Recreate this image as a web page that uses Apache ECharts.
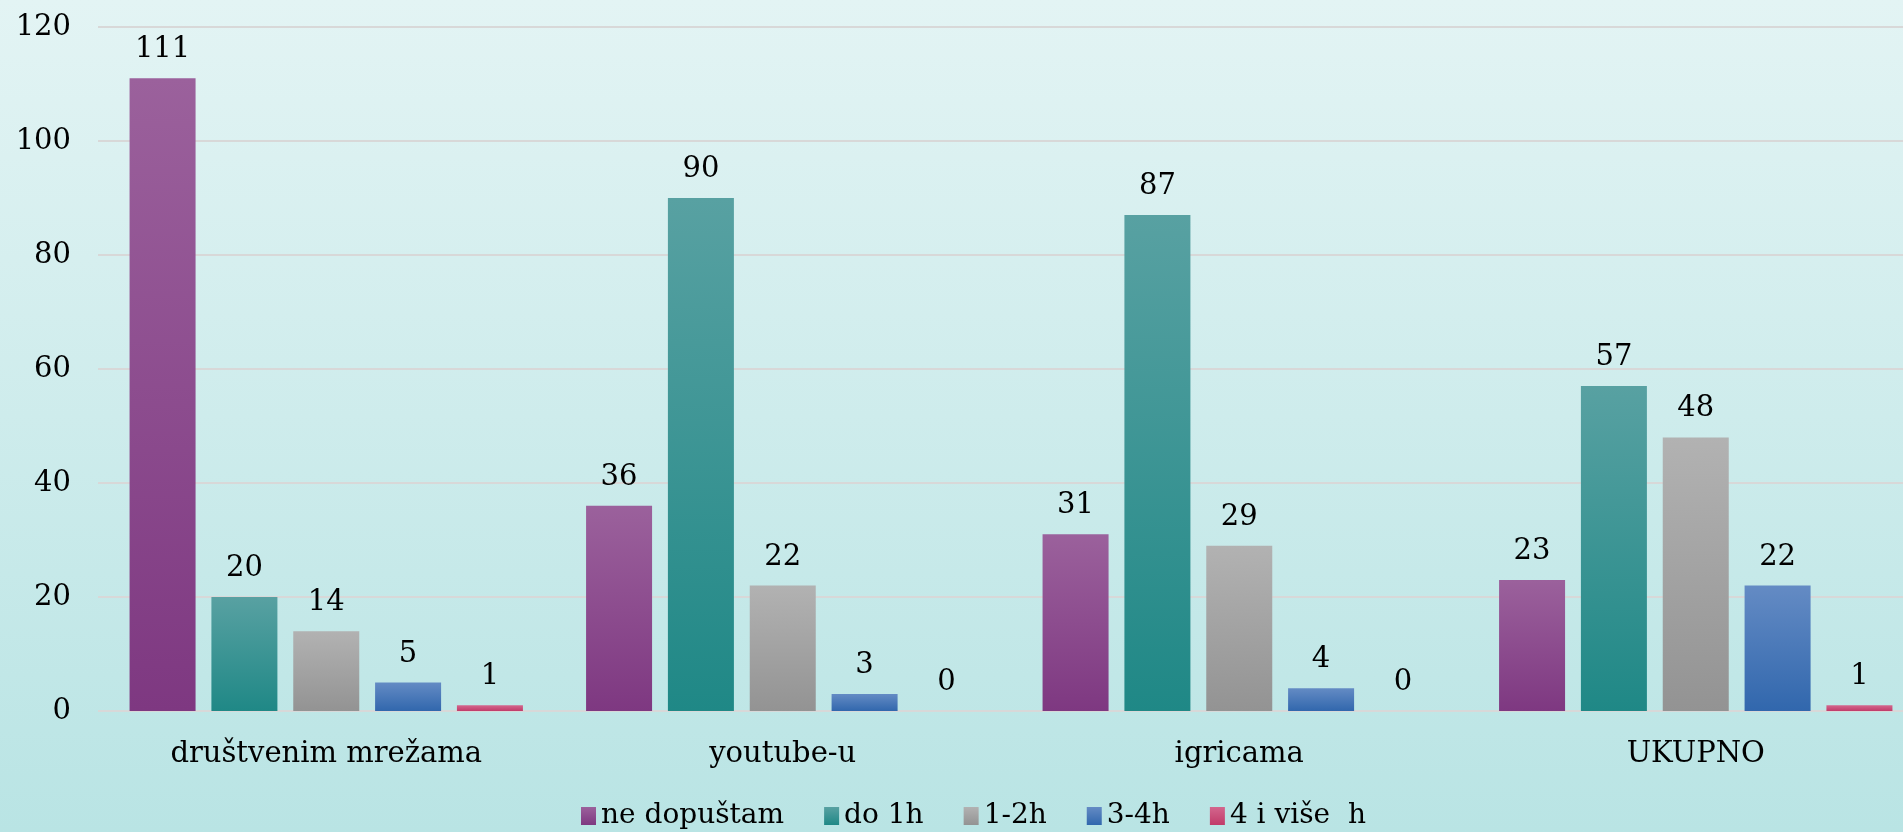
<!DOCTYPE html>
<html>
<head>
<meta charset="utf-8">
<script src="https://cdn.jsdelivr.net/npm/echarts@6/dist/echarts.min.js"></script>
<style>
  html, body { margin: 0; padding: 0; overflow: hidden; }
  /* chart is a bit wider than the window: the last bars run to the edge in the original */
  #chart {
    width: 1924px; height: 832px;
    background: linear-gradient(to bottom, #e3f4f4 0%, #b9e4e4 100%);
  }
</style>
</head>
<body>
<div id="chart"></div>
<script>
const categories = ['društvenim mrežama', 'youtube-u', 'igricama', 'UKUPNO'];
const seriesNames = ['ne dopuštam', 'do 1h', '1-2h', '3-4h', '4 i više  h'];
const neDopustam = [111, 36, 31, 23];
const do1h = [20, 90, 87, 57];
const h1do2 = [14, 22, 29, 48];
const h3do4 = [5, 3, 4, 22];
const h4iVise = [1, 0, 0, 1];
const yTicks = [0, 20, 40, 60, 80, 100, 120];

const values = [neDopustam, do1h, h1do2, h3do4, h4iVise];
const colors = [
  ['#9b619c', '#7e3881'],
  ['#58a1a2', '#1f8886'],
  ['#b2b2b2', '#939393'],
  ['#648bc4', '#3167ad'],
  ['#d3668d', '#c13b69']
];
const font = 'DejaVu Serif';

let myChart = echarts.init(document.getElementById('chart'));

function grad(c) {
  return new echarts.graphic.LinearGradient(0, 0, 0, 1, [
    { offset: 0, color: c[0] },
    { offset: 1, color: c[1] }
  ]);
}

let series = [];
for (let i = 0; i < values.length; i++) {
  series.push({
    name: seriesNames[i],
    type: 'bar',
    data: values[i],
    barWidth: 66,
    barGap: '24%',
    itemStyle: { color: grad(colors[i]) },
    label: {
      show: true,
      position: 'top',
      distance: 14,
      color: '#000',
      fontFamily: font,
      fontSize: 29
    }
  });
}

myChart.setOption({
  backgroundColor: 'transparent',
  textStyle: { fontFamily: font },
  grid: { left: 98, right: 0, top: 27, bottom: 121, containLabel: false },
  legend: {
    data: seriesNames.map((n, i) => ({ name: n, itemStyle: { color: grad(colors[i]) } })),
    left: 576,
    bottom: -3,
    itemWidth: 15,
    itemHeight: 18,
    itemGap: 40,
    icon: 'rect',
    textStyle: { fontFamily: font, fontSize: 28, color: '#000' }
  },
  xAxis: {
    type: 'category',
    data: categories,
    axisLine: { show: false },
    axisTick: { show: false },
    axisLabel: { color: '#000', fontFamily: font, fontSize: 29, margin: 29 }
  },
  yAxis: {
    type: 'value',
    min: yTicks[0],
    max: yTicks[yTicks.length - 1],
    interval: 20,
    axisLine: { show: false },
    axisTick: { show: false },
    axisLabel: { color: '#000', fontFamily: font, fontSize: 29, margin: 27 },
    splitLine: { lineStyle: { color: '#d8d8d8', width: 2 } }
  },
  series: series
});
</script>
</body>
</html>
